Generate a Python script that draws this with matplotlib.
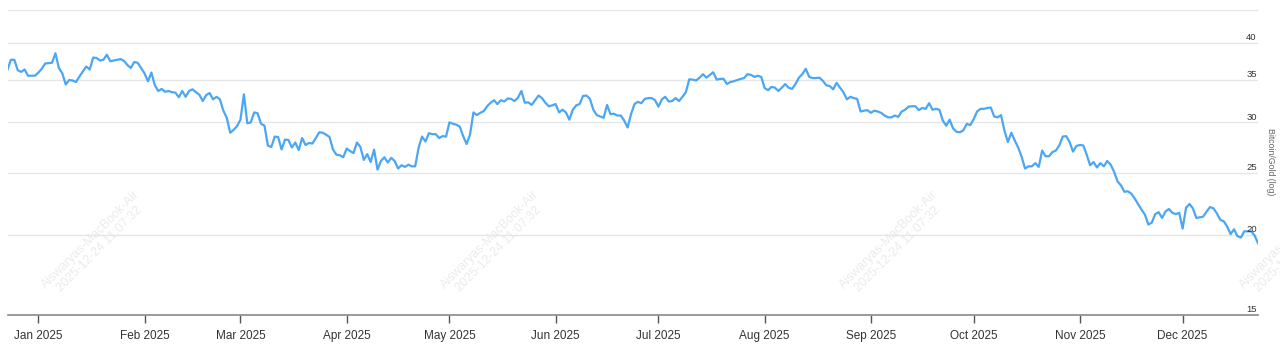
import numpy as np
import matplotlib
matplotlib.use('Agg')
import matplotlib.pyplot as plt
import matplotlib.dates as mdates
import matplotlib.ticker as mticker
import matplotlib.transforms as mtransforms
import pandas as pd

plt.rcParams['font.family'] = ['Liberation Sans', 'DejaVu Sans']

# days counted from 2025-01-01
start = '2025-01-01'
day_offset = [-9, -8, -7, -6, -5, -4, -3, -1, 0, 1, 2, 4, 5, 6, 7, 8, 9, 10, 11, 12,
              14, 15, 16, 17, 18, 19, 20, 21, 22, 24, 25, 26, 27, 28, 29, 30, 31, 32,
              33, 34, 35, 36, 37, 38, 39, 40, 41, 42, 43, 44, 45, 46, 47, 48, 49, 50,
              51] + list(range(52, 357))

# Bitcoin / Gold ratio
ratio = [
    # late Dec - Feb
    36.3, 37.6, 37.6, 36.2, 36.0, 36.3, 35.5, 35.5, 35.9, 36.4, 37.1, 37.2, 38.5, 36.5,
    35.8, 34.4, 34.95, 34.9, 34.7, 35.4, 36.7, 36.3, 37.9, 37.85, 37.5, 37.6, 38.3, 37.4,
    37.5, 37.7, 37.45, 36.9, 36.5, 37.3, 37.2, 36.5, 35.8, 34.8, 35.9, 34.3, 33.6, 33.85,
    33.5, 33.6, 33.45, 33.4, 32.85, 33.6, 32.9, 33.6, 33.8, 33.45, 33.15, 32.4, 33.1,
    33.35, 32.6,
    # Feb 21 - Apr 20
    32.9, 32.6, 31.3, 30.5, 28.9, 29.2, 29.6, 30.3, 33.2, 29.9, 30.0, 31.1, 31.0, 29.85,
    29.65, 27.6, 27.45, 28.5, 28.45, 27.2, 28.2, 28.15, 27.4, 27.9, 27.15, 28.35, 27.65,
    27.85, 27.8, 28.35, 28.95, 28.9, 28.7, 28.45, 27.2, 26.7, 26.65, 26.45, 27.3, 27.05,
    26.85, 27.9, 27.45, 26.2, 26.75, 26.0, 27.2, 25.3, 26.1, 26.45, 25.95, 26.4, 26.1,
    25.4, 25.7, 25.55, 25.75, 25.6, 25.6,
    # Apr 21 - Jun 18
    27.4, 28.5, 28.0, 28.85, 28.75, 28.75, 28.35, 28.55, 28.5, 30.0, 29.85, 29.75, 29.55,
    28.55, 27.75, 28.7, 31.1, 30.8, 31.05, 31.25, 31.8, 32.2, 32.5, 32.05, 32.5, 32.35,
    32.7, 32.65, 32.4, 32.8, 33.6, 32.2, 32.25, 31.95, 32.5, 33.05, 32.75, 32.2, 31.8,
    31.9, 32.05, 31.1, 31.4, 31.1, 30.3, 31.4, 31.9, 32.05, 33.0, 33.05, 32.65, 31.4,
    30.8, 30.65, 30.5, 31.95, 30.9, 30.95, 30.75,
    # Jun 19 - Aug 16
    30.75, 30.2, 29.45, 30.9, 32.05, 32.3, 32.15, 32.65, 32.75, 32.75, 32.5, 31.75, 32.6,
    32.9, 32.35, 32.4, 32.75, 32.4, 32.9, 33.45, 35.05, 35.0, 34.9, 35.25, 35.7, 35.25,
    35.6, 35.95, 35.0, 35.1, 35.1, 34.45, 34.7, 34.8, 34.95, 35.1, 35.2, 35.7, 35.6,
    35.35, 35.5, 35.35, 33.95, 33.7, 34.1, 34.0, 33.6, 34.0, 34.45, 34.0, 33.85, 34.45,
    35.25, 35.7, 36.4, 35.35, 35.2, 35.2, 35.25,
    # Aug 17 - Oct 15
    34.85, 34.3, 34.2, 33.8, 34.6, 34.0, 33.45, 32.6, 32.9, 32.75, 32.65, 31.2, 31.3,
    31.35, 31.05, 31.3, 31.2, 31.05, 30.75, 30.55, 30.55, 30.75, 30.6, 31.2, 31.4, 31.75,
    31.8, 31.8, 31.35, 31.6, 31.5, 32.15, 31.4, 31.5, 31.4, 30.2, 29.65, 30.3, 29.35,
    29.0, 28.95, 29.15, 29.85, 29.7, 30.35, 31.2, 31.5, 31.5, 31.6, 31.65, 30.65, 30.55,
    30.8, 29.1, 27.95, 28.9, 28.1, 27.4, 26.5, 25.4,
    # Oct 16 - Dec 22
    25.6, 25.6, 25.9, 25.55, 27.1, 26.55, 26.55, 26.95, 27.1, 27.6, 28.5, 28.55, 27.95,
    27.0, 27.55, 27.65, 27.6, 26.7, 25.7, 26.0, 25.5, 25.9, 25.6, 26.1, 25.75, 25.1,
    24.25, 23.9, 23.35, 23.4, 23.2, 22.8, 22.35, 21.9, 21.5, 20.75, 20.9, 21.55, 21.7,
    21.25, 21.75, 21.95, 21.65, 21.55, 21.65, 20.45, 22.05, 22.35, 22.0, 21.25, 21.3,
    21.35, 21.75, 22.1, 22.0, 21.6, 21.1, 21.0, 20.6, 20.05, 20.4, 19.9, 19.8, 20.25,
    20.25, 20.25, 19.95, 19.4,
]

ytick_vals = [15, 20, 25, 30, 35, 40]
grid_vals = [15, 20, 25, 30, 35, 40, 45]
y_title = 'Bitcoin/Gold (log)'
watermark = 'Aiswaryas-MacBook-Air\n2025-12-24 11:07:32'

dates = pd.Timestamp(start) + pd.to_timedelta(day_offset, unit='D')

fig = plt.figure(figsize=(12.8, 3.5), dpi=100)
ax = fig.add_axes([7.5/1280, 35.5/350, 1250.5/1280, 304.5/350])

ax.plot(dates, ratio, color='#4ba6f4', lw=1.6, zorder=3, solid_joinstyle='round')

ax.set_yscale('log')
ax.set_ylim(15, 45)
ax.set_xlim(dates[0], dates[-1])
ax.set_yticks(grid_vals)
ax.yaxis.set_minor_locator(mticker.NullLocator())
ax.tick_params(axis='y', which='both', left=False, labelleft=False)
ax.grid(axis='y', color='#e6e6e6', lw=1, zorder=0)
for s in ['left', 'right', 'top']:
    ax.spines[s].set_visible(False)
ax.spines['bottom'].set_color('#8a8a8a')
ax.spines['bottom'].set_linewidth(1.2)

ax.xaxis.set_major_locator(mdates.MonthLocator())
ax.xaxis.set_major_formatter(mdates.DateFormatter('%b %Y'))
ax.tick_params(axis='x', length=6, width=1, color='#555555', labelsize=8.5,
               labelcolor='#333333', pad=5)

# right side value labels sitting on the gridlines
trans = mtransforms.offset_copy(
    mtransforms.blended_transform_factory(ax.transAxes, ax.transData),
    fig=fig, x=0, y=0.5, units='points')
for v in ytick_vals:
    ax.text(0.999, v, str(v), transform=trans, ha='right', va='bottom',
            fontsize=6.8, color='#333333')

fig.text(1270/1280, 1 - 162/350, y_title, rotation=-90, ha='center', va='center',
         fontsize=6.3, color='#666666')

# faint watermark stamps
for wx in [0.07, 0.389, 0.708, 1.028]:
    ax.text(wx, 0.23, watermark, transform=ax.transAxes, rotation=45,
            ha='center', va='center', fontsize=9, color='#ebebeb',
            zorder=1, clip_on=False, linespacing=1.1)

fig.savefig('out.png', dpi=100)
